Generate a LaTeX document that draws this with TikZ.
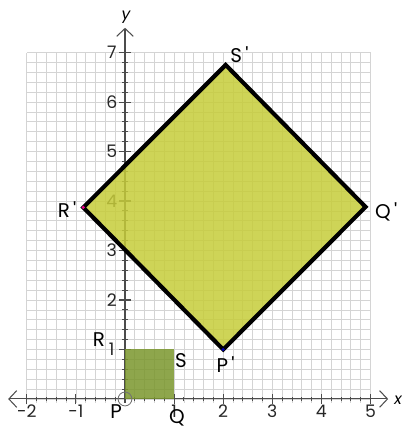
\documentclass[tikz,border=0pt]{standalone}
\usepackage{fontspec}
\setmainfont{Poppins}
\usetikzlibrary{arrows.meta}
\definecolor{bigfill}{RGB}{198,204,58}
\definecolor{smallfill}{RGB}{122,150,45}
\definecolor{gridc}{RGB}{212,212,212}
\tikzset{
  gridline/.style={draw=gridc, line width=0.45pt},
  axisline/.style={draw=black!70, line width=0.6pt, {Straight Barb[length=1.6mm,width=3.4mm]}-{Straight Barb[length=1.6mm,width=3.4mm]}},
  ticklab/.style={font=\fontsize{10}{12}\selectfont, text=black!85, inner sep=0pt},
  vlab/.style={font=\fontsize{11.5}{13}\selectfont, text=black, inner sep=0pt},
  bigsq/.style={fill=bigfill, fill opacity=0.85, draw=black, draw opacity=1, line width=2.4pt, line join=miter},
  smallsq/.style={fill=smallfill, fill opacity=0.85, draw=none}
}
\newcommand{\pr}{\,\textquotesingle}
\begin{document}
\begin{tikzpicture}[x=1cm, y=1.008cm]
\useasboundingbox (-2.546cm,-0.591cm) rectangle (5.641cm,8.126cm);
% grid
\draw[gridline] (-2,-0.08) grid[step=0.2] (5,7);
% axes
\coordinate (xl) at (-2.38,0);
\coordinate (xr) at (5.36,0);
\coordinate (yb) at (0,-0.08);
\coordinate (yt) at (0,7.5);
\draw[axisline] (xl) -- (xr);
\draw[draw=black!70, line width=0.6pt, -{Straight Barb[length=1.6mm,width=3.4mm]}] (yb) -- (yt);
\node[font=\fontsize{9}{10}\selectfont\itshape, inner sep=0pt] (xlab) at (5.56,-0.02) {x};
\node[font=\fontsize{9}{10}\selectfont\itshape, inner sep=0pt] (ylab) at (0.02,7.72) {y};
% ticks
\foreach \t in {-2,-1.8,...,5.05} \draw[black!70, line width=0.5pt] (\t,-0.05) -- (\t,0.05);
\foreach \t in {-2,-1,1,2,3,4,5} \draw[black!70, line width=0.6pt] (\t,-0.11) -- (\t,0.11);
\foreach \t in {0.2,0.4,...,7.05} \draw[black!70, line width=0.5pt] (-0.06,\t) -- (0.06,\t);
\foreach \t in {1,...,7} \draw[black!70, line width=0.6pt] (-0.12,\t) -- (0.12,\t);
% tick labels
\foreach \t in {-2,-1,1,2,3,4,5} \node[ticklab] (xt\t) at (\t,-0.25) {\t};
\foreach \t in {1,...,7} \node[ticklab] (yt\t) at (-0.27,\t) {\t};
% small square
\coordinate (P) at (0,0);
\coordinate (Q) at (1,0);
\coordinate (S) at (1,1);
\coordinate (R) at (0,1);
\fill[smallsq] (P) -- (Q) -- (S) -- (R) -- cycle;
\draw[draw=black!55, line width=0.5pt] (P) circle (0.14);
% big square
\coordinate (Pp) at (2,1);
\coordinate (Qp) at (4.9,3.88);
\coordinate (Sp) at (2.05,6.75);
\coordinate (Rp) at (-0.85,3.87);
\path[bigsq] (Pp) -- (Qp) -- (Sp) -- (Rp) -- cycle;
\fill[blue!70!black] (Pp) circle (0.035);
\fill[magenta] (Rp) circle (0.035);
% vertex labels
\node[vlab] (lSp) at (2.33,6.96) {S\pr};
\node[vlab] (lQp) at (5.32,3.78) {Q\pr};
\node[vlab] (lRp) at (-1.18,3.82) {R\pr};
\node[vlab] (lPp) at (2.05,0.69) {P\pr};
\node[vlab] (lR) at (-0.53,1.2) {R};
\node[vlab] (lS) at (1.14,0.77) {S};
\node[vlab] (lP) at (-0.18,-0.26) {P};
\node[vlab] (lQ) at (1.06,-0.38) {Q};
\end{tikzpicture}
\end{document}
